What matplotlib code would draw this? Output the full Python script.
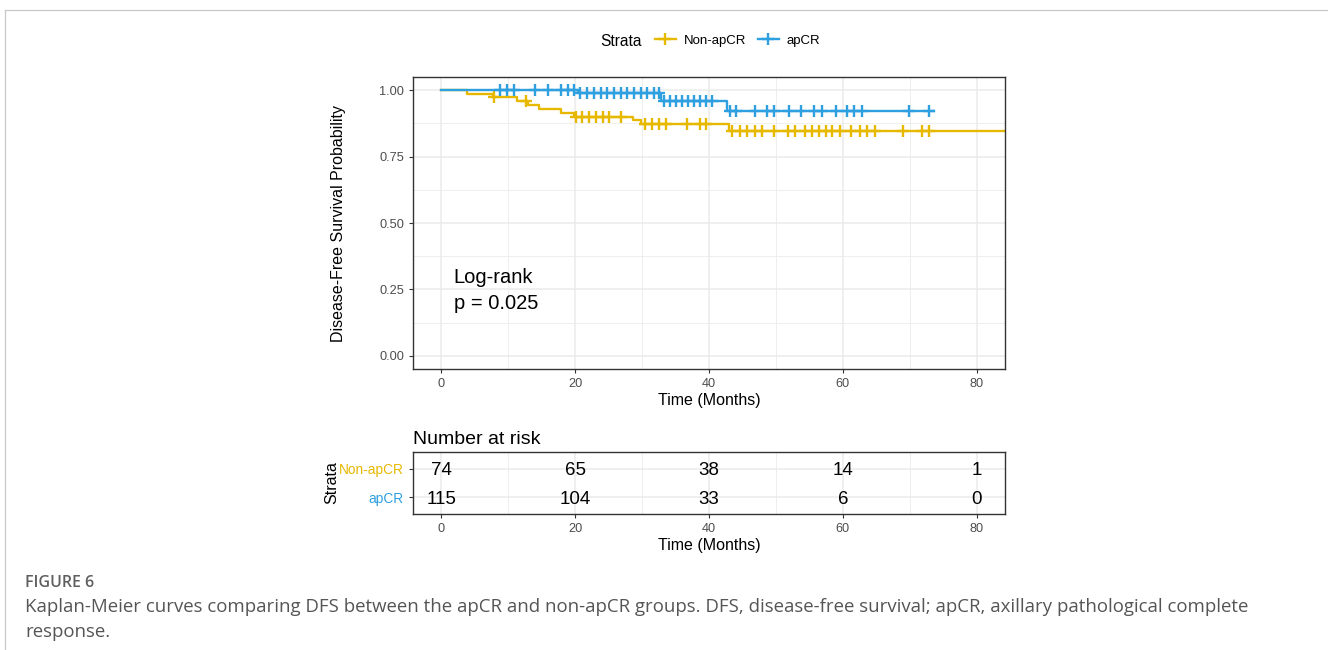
import matplotlib
matplotlib.use("Agg")
import matplotlib.pyplot as plt
import numpy as np
from matplotlib.lines import Line2D

plt.rcParams['font.family'] = ['Liberation Sans', 'DejaVu Sans']

YELLOW = '#E7B800'
BLUE = '#2E9FDF'
GRID = '#EBEBEB'
BORDER = '#333333'
TICKTXT = '#4D4D4D'

# ---- Kaplan-Meier steps (months, survival after step) ----
non_t = [0, 3.9, 7.7, 11.4, 13.0, 14.6, 17.9, 19.8, 28.6, 29.8, 43.0, 84.5]
non_s = [1.0, 0.986, 0.973, 0.959, 0.945, 0.931, 0.916, 0.901, 0.888, 0.874, 0.845, 0.845]
non_cens = [7.9, 12.6, 20.2, 21.1, 22.1, 23.1, 24.1, 25.1, 26.8, 30.5, 31.5, 32.5, 33.6,
            36.7, 38.6, 39.6, 43.5, 44.6, 45.7, 46.8, 47.9, 49.7, 51.8, 52.8, 54.4, 55.4,
            56.4, 57.4, 58.3, 59.5, 61.2, 62.5, 63.6, 64.8, 69.0, 71.8, 72.9]

apcr_t = [0, 20.4, 32.9, 42.7, 73.6]
apcr_s = [1.0, 0.991, 0.958, 0.923, 0.923]
apcr_cens = [8.8, 9.8, 10.9, 14.0, 15.9, 17.9, 18.9, 19.9, 20.8, 21.8, 22.8, 23.8, 24.8,
             25.8, 26.8, 27.8, 28.8, 29.8, 30.8, 31.8, 32.6, 33.3, 34.2, 35.1, 36.0, 36.9,
             37.8, 38.7, 39.6, 40.4, 43.2, 44.1, 46.9, 48.6, 49.7, 52.0, 53.7, 55.7, 56.9,
             58.9, 60.6, 61.7, 62.9, 69.8, 72.9]

# ---- number at risk ----
risk_times = [0, 20, 40, 60, 80]
risk_non = [74, 65, 38, 14, 1]
risk_apcr = [115, 104, 33, 6, 0]
strata = ['Non-apCR', 'apCR']
colors = [YELLOW, BLUE]

XLIM = (-4.2, 84.2)


def level_at(times, levels, x):
    idx = np.searchsorted(times, x, side='right') - 1
    return np.asarray(levels)[idx]


def style_axes(ax):
    for sp in ax.spines.values():
        sp.set_color(BORDER)
        sp.set_linewidth(1.0)
    ax.tick_params(direction='out', length=3, width=0.8, color=BORDER,
                   labelcolor=TICKTXT, labelsize=9.2)
    ax.set_axisbelow(True)


fig = plt.figure(figsize=(13.28, 6.5), dpi=100)

# page frame lines
fig.add_artist(Line2D([5 / 1328, 1], [1 - 10 / 650, 1 - 10 / 650], color='#C8C8C8', lw=0.9))
fig.add_artist(Line2D([5 / 1328, 5 / 1328], [0, 1 - 10 / 650], color='#C8C8C8', lw=0.9))

# ---- survival curves ----
ax = fig.add_axes([413 / 1328, 1 - 369 / 650, 592 / 1328, 292 / 650])
style_axes(ax)
ax.set_xlim(*XLIM)
ax.set_ylim(-0.05, 1.05)
ax.set_xticks([0, 20, 40, 60, 80])
ax.set_xticks([10, 30, 50, 70], minor=True)
ax.set_yticks([0, 0.25, 0.5, 0.75, 1.0])
ax.set_yticklabels(['0.00', '0.25', '0.50', '0.75', '1.00'])
ax.set_yticks([0.125, 0.375, 0.625, 0.875], minor=True)
ax.tick_params(which='minor', length=0)
ax.grid(which='major', color=GRID, lw=1.1)
ax.grid(which='minor', color=GRID, lw=0.6)

for t, s, c, col in [(non_t, non_s, non_cens, YELLOW), (apcr_t, apcr_s, apcr_cens, BLUE)]:
    ax.step(t, s, where='post', color=col, lw=1.7)
    ax.plot(c, level_at(t, s, c), ls='none', marker='+', ms=8.5, mew=1.7, color=col)

ax.text(1.9, 0.294, 'Log-rank', fontsize=14.5, va='center', ha='left')
ax.text(1.9, 0.196, 'p = 0.025', fontsize=14.5, va='center', ha='left')
ax.set_xlabel('Time (Months)', fontsize=11.5, labelpad=2)
ax.set_ylabel('Disease-Free Survival Probability', fontsize=11.5, labelpad=24)

# legend
fig.text(600 / 1328, 1 - 41 / 650, 'Strata', fontsize=11.2, va='center', ha='left')
handles = [Line2D([], [], color=col, lw=1.7, marker='+', ms=8.5, mew=1.7) for col in colors]
fig.legend(handles, strata, ncol=2, frameon=False, fontsize=9.5,
           loc='center left', bbox_to_anchor=(648 / 1328, 1 - 41 / 650),
           handlelength=1.6, handletextpad=0.6, columnspacing=0.9, borderpad=0)

# ---- risk table ----
tb = fig.add_axes([413 / 1328, 1 - 514 / 650, 592 / 1328, 62 / 650])
style_axes(tb)
tb.set_xlim(*XLIM)
tb.set_ylim(0.4, 2.6)
tb.set_xticks([0, 20, 40, 60, 80])
tb.set_xticks([10, 30, 50, 70], minor=True)
tb.tick_params(which='minor', length=0)
tb.set_yticks([2, 1])
tb.set_yticklabels(strata, fontsize=9.8)
for lab, col in zip(tb.get_yticklabels(), colors):
    lab.set_color(col)
tb.grid(which='major', color=GRID, lw=1.1)
tb.grid(which='minor', axis='x', color=GRID, lw=0.6)
for row, vals in [(2, risk_non), (1, risk_apcr)]:
    for t, v in zip(risk_times, vals):
        tb.text(t, row - 0.07, str(v), fontsize=13.5, ha='center', va='center')
tb.set_xlabel('Time (Months)', fontsize=11.5, labelpad=2)
tb.set_ylabel('Strata', fontsize=11.5, labelpad=0)
tb.set_title('Number at risk', fontsize=14, loc='left', pad=6)

# ---- caption ----
cap_font = ['Open Sans', 'DejaVu Sans']
fig.text(25 / 1328, 1 - 583 / 650, 'FIGURE 6', fontsize=11.5, color='#5F5F5F',
         family=cap_font, weight='semibold', va='center')
fig.text(25 / 1328, 1 - 607 / 650,
         'Kaplan-Meier curves comparing DFS between the apCR and non-apCR groups. '
         'DFS, disease-free survival; apCR, axillary pathological complete',
         fontsize=13.4, color='#555555', family=cap_font, va='center')
fig.text(25 / 1328, 1 - 632 / 650, 'response.', fontsize=13.4, color='#555555',
         family=cap_font, va='center')

fig.savefig('out.png', dpi=100, facecolor='white')
